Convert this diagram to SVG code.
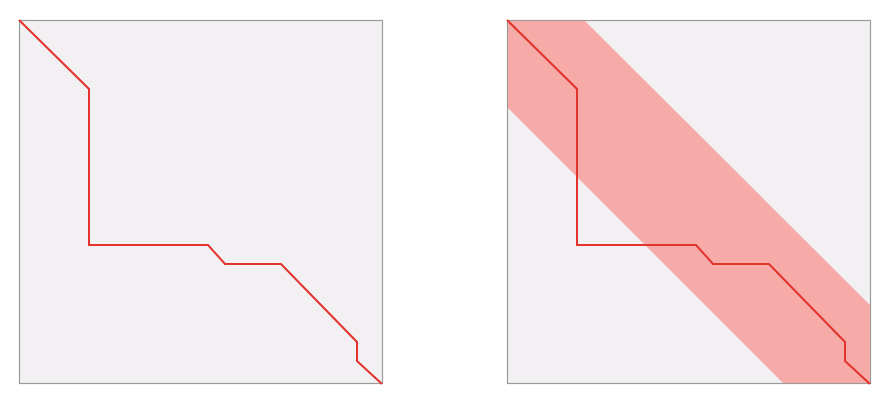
<svg xmlns="http://www.w3.org/2000/svg" width="890" height="404" viewBox="0 0 890 404">
<style>
.box{fill:#f3f0f3;stroke:#9a9a9a;stroke-width:1.2}
.path{fill:none;stroke:#e2332c;stroke-width:2;stroke-linejoin:miter}
.band{fill:#f6a7a3;opacity:0.95}
</style>
<rect width="890" height="404" fill="#ffffff"/>
<g id="left-panel">
<rect class="box" x="19.5" y="20.5" width="363" height="363"/>
<polyline class="path" points="19,20 89,89 89,245 208,245 225,264 281,264 357,342 357,361 382,384"/>
</g>
<g id="right-panel">
<rect class="box" x="507.5" y="20.5" width="363" height="363"/>
<polygon class="band" points="508,21 585,21 870,305 870,383 783,383 508,108"/>
<polyline class="path" points="507,20 577,89 577,245 696,245 713,264 769,264 845,342 845,361 870,384"/>
</g>
</svg>
